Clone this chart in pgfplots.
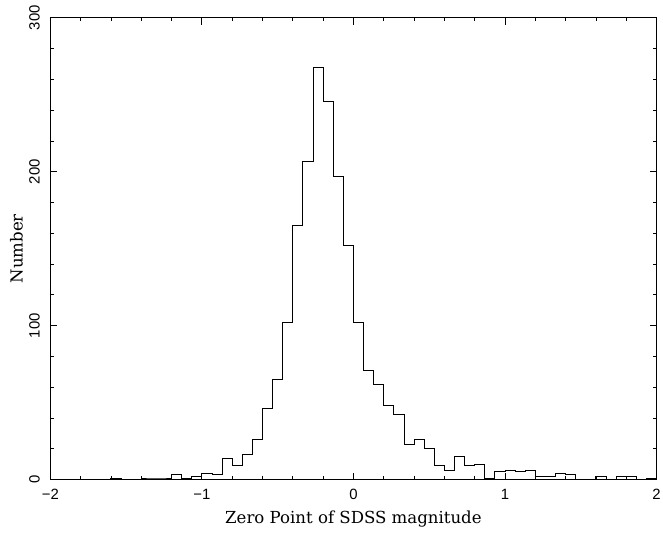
\documentclass[border=0pt]{standalone}
\usepackage{fontspec}
\setmainfont{DejaVu Serif}
\newfontfamily\ticfont{Liberation Sans}
\usepackage{pgfplots}
\pgfplotsset{compat=1.18}
\pgfplotstableread{
x y
-2.0000 0
-1.9333 0
-1.8667 0
-1.8000 0
-1.7333 0
-1.6667 0
-1.6000 1
-1.5333 0
-1.4667 0
-1.4000 1
-1.3333 1
-1.2667 1
-1.2000 3
-1.1333 1
-1.0667 2
-1.0000 4
-0.9333 3
-0.8667 14
-0.8000 9
-0.7333 16
-0.6667 26
-0.6000 46
-0.5333 65
-0.4667 102
-0.4000 165
-0.3333 207
-0.2667 268
-0.2000 246
-0.1333 197
-0.0667 152
0.0000 102
0.0667 71
0.1333 62
0.2000 48
0.2667 42
0.3333 23
0.4000 26
0.4667 20
0.5333 9
0.6000 6
0.6667 15
0.7333 9
0.8000 10
0.8667 1
0.9333 5
1.0000 6
1.0667 5
1.1333 6
1.2000 2
1.2667 2
1.3333 4
1.4000 3
1.4667 0
1.5333 0
1.6000 2
1.6667 0
1.7333 2
1.8000 2
1.8667 0
1.9333 1
2.0000 1
}\histdata
\begin{document}
\begin{tikzpicture}
\begin{axis}[
  scale only axis, width=611pt, height=465.3pt,
  xmin=-2, xmax=2, ymin=0, ymax=300,
  xtick={-2,-1,0,1,2}, xticklabels={−2,−1,0,1,2},
  ytick={0,100,200,300}, yticklabels={0,100,200,300},
  minor x tick num=4, minor y tick num=4,
  tick align=inside,
  major tick length=6.7pt, minor tick length=3.3pt,
  tick style={black, line width=0.8pt},
  axis line style={line width=1.1pt},
  tick label style={font=\fontsize{15}{17}\ticfont},
  xticklabel style={anchor=north, inner sep=0pt, yshift=-9.4pt},
  yticklabel style={xshift=-10.3pt, rotate=90, anchor=south, inner sep=0pt},
  every axis x label/.style={at={(axis description cs:0.5,0)}, yshift=-39.7pt, anchor=center},
  every axis y label/.style={at={(axis description cs:0,0.5)}, xshift=-34pt, rotate=90, anchor=center},
  label style={font=\fontsize{16.7}{19}\selectfont},
  xlabel={Zero Point of SDSS magnitude},
  ylabel={Number},
]
\addplot[const plot, black, line width=0.9pt] table[x=x, y=y] {\histdata};
\end{axis}
\pgfresetboundingbox
\path[use as bounding box] (-50.7pt,-54.7pt) rectangle (617.5pt,483.3pt);
\end{tikzpicture}
\end{document}
